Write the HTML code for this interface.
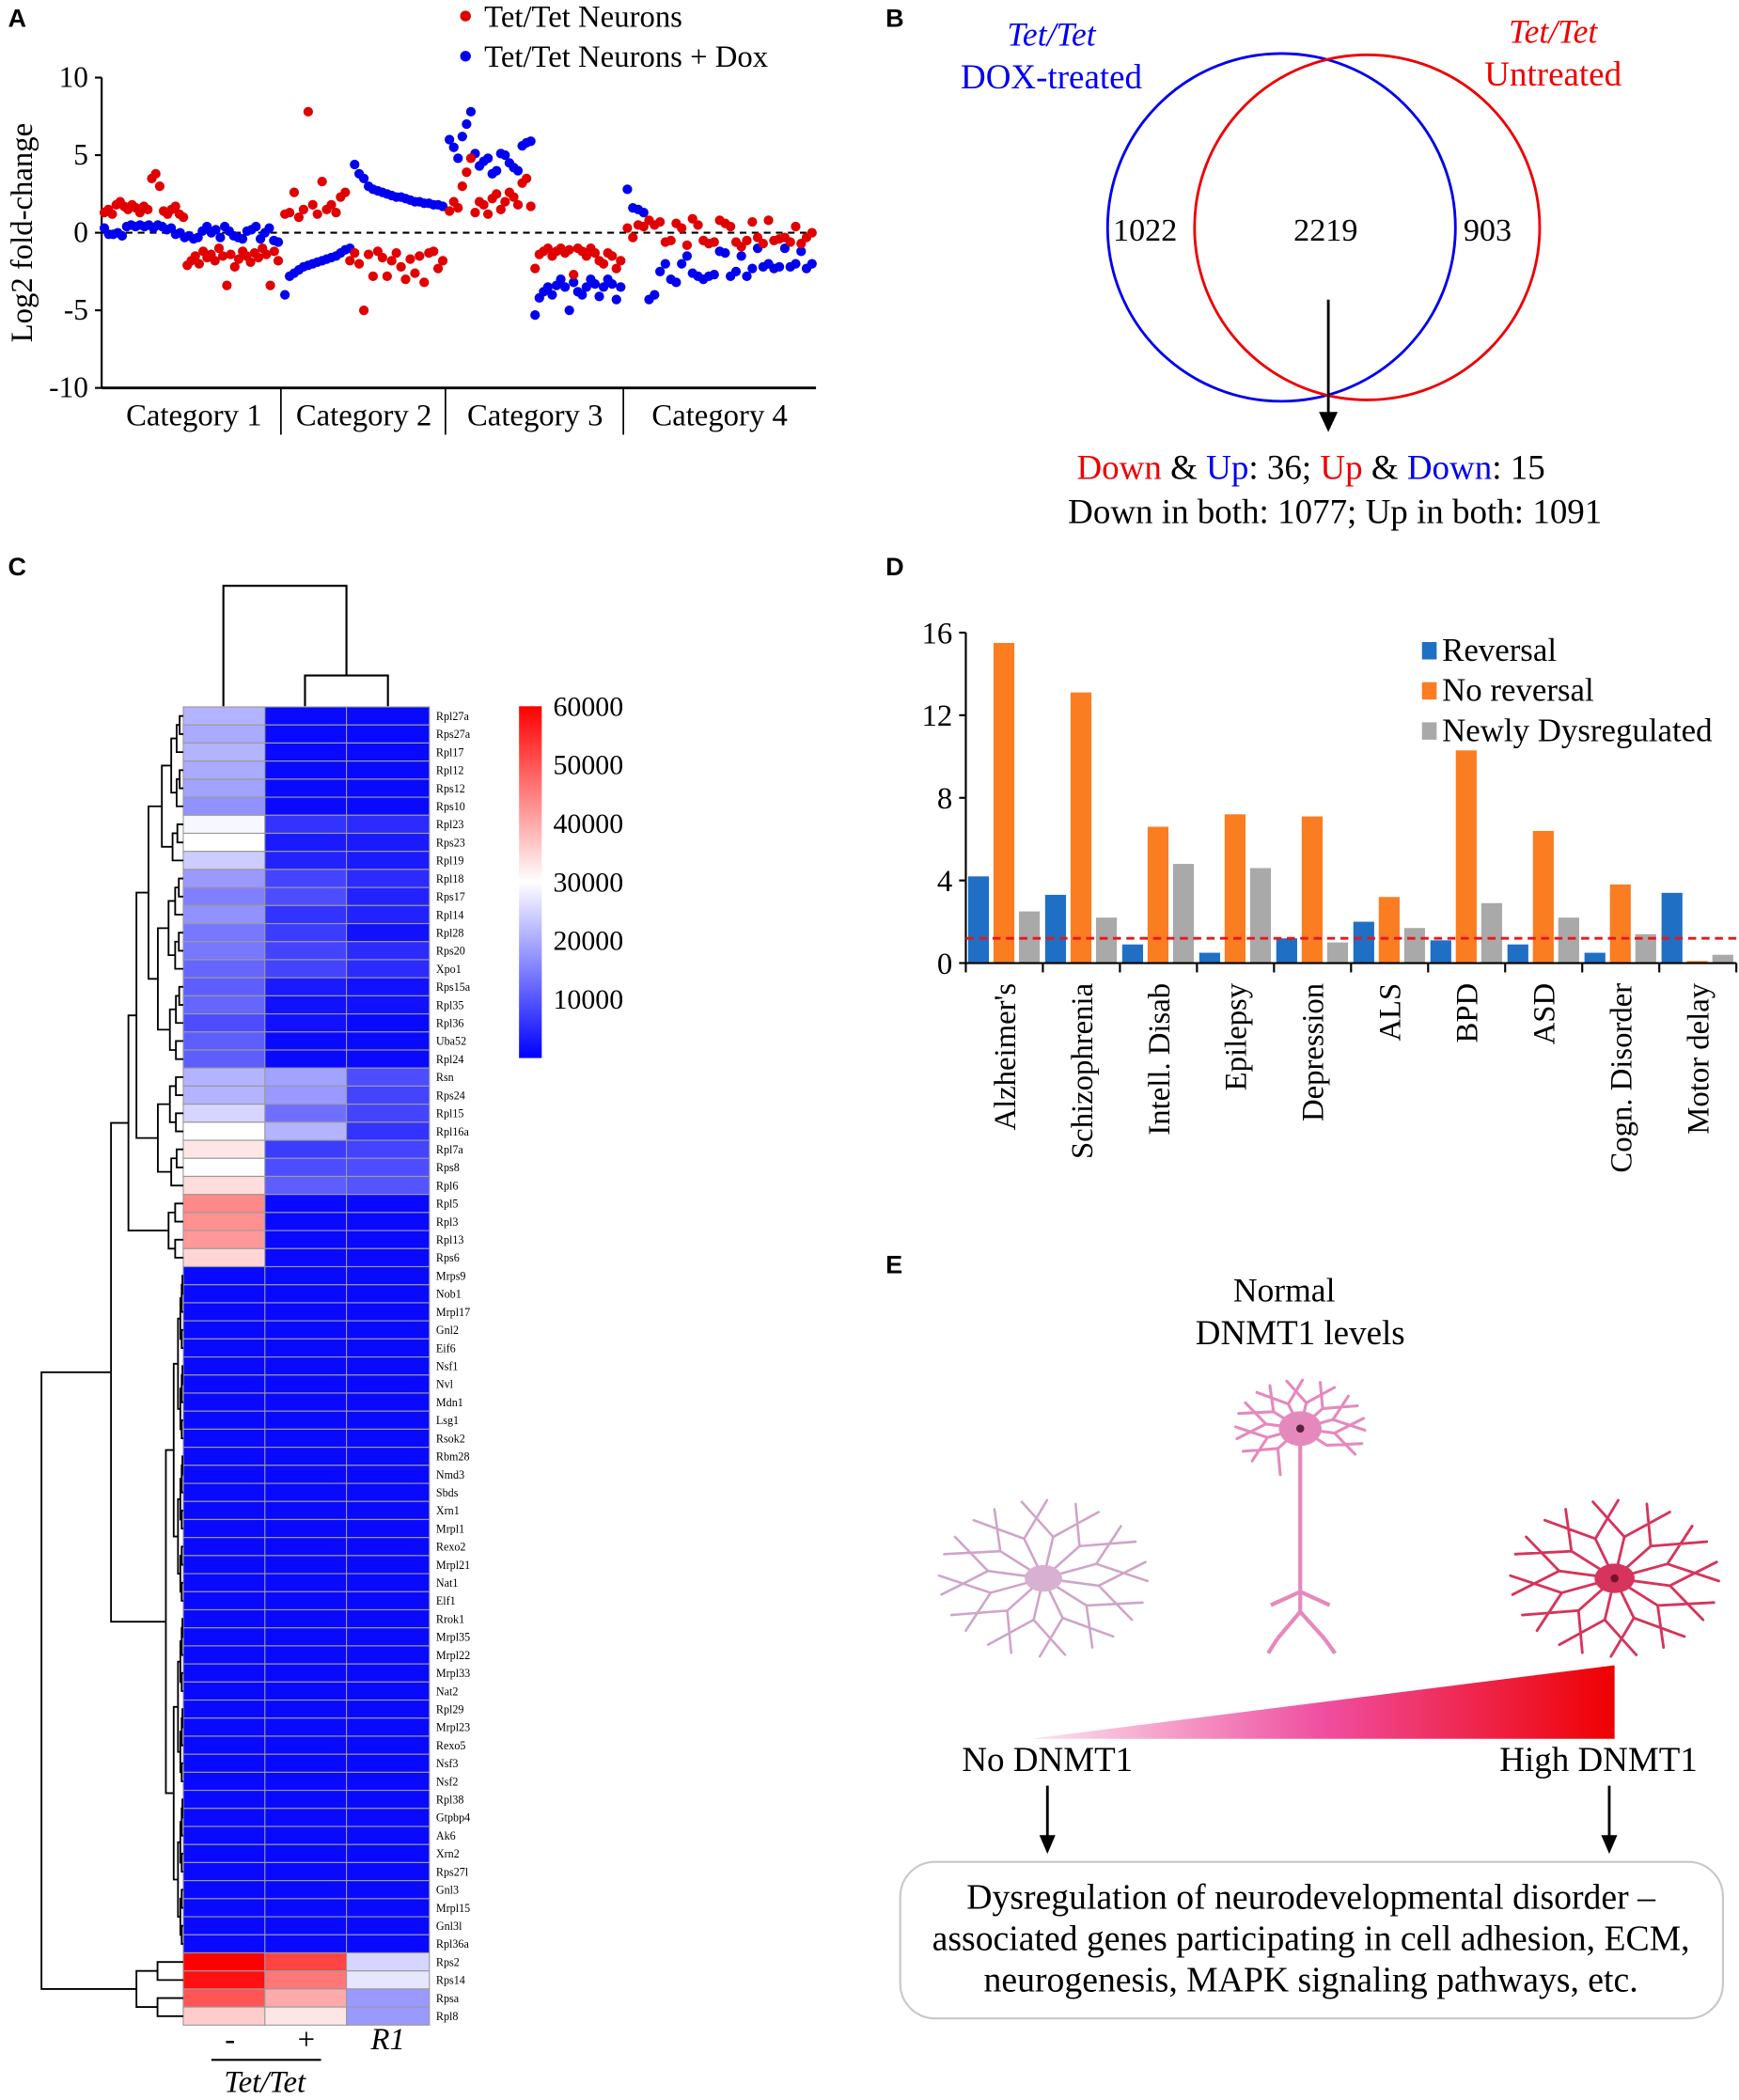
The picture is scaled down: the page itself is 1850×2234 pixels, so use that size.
<!DOCTYPE html>
<html><head><meta charset="utf-8"><style>
html,body{margin:0;padding:0;background:#fff;}
svg{display:block;font-family:"Liberation Serif",serif;}
text{font-family:"Liberation Serif",serif;}
text.pl{font-family:"Liberation Sans",sans-serif;font-weight:bold;font-size:19px;}
</style></head><body>
<svg id="fig" width="1850" height="2234" viewBox="0 0 1300 1570" preserveAspectRatio="none" xmlns="http://www.w3.org/2000/svg">
<defs>
<linearGradient id="cbar" x1="0" y1="1" x2="0" y2="0"><stop offset="0" stop-color="#0000ff"/><stop offset="0.5" stop-color="#ffffff"/><stop offset="1" stop-color="#ff0000"/></linearGradient>
<linearGradient id="tri" x1="0" y1="0" x2="1" y2="0"><stop offset="0" stop-color="#fbe6ee"/><stop offset="0.5" stop-color="#ef4fa0"/><stop offset="1" stop-color="#ee0000"/></linearGradient>
</defs>
<g id="pa">
<text class="pl" x="6" y="20">A</text>
<circle cx="348" cy="12" r="4" fill="#e00000"/>
<text x="362" y="20" font-size="23">Tet/Tet Neurons</text>
<circle cx="348" cy="42" r="4" fill="#0000ee"/>
<text x="362" y="50" font-size="23">Tet/Tet Neurons + Dox</text>
<text transform="translate(24,174) rotate(-90)" text-anchor="middle" font-size="23">Log2 fold-change</text>
</g>
<g id="pb">
<text class="pl" x="662" y="20">B</text>
<circle cx="958" cy="170" r="130" fill="none" stroke="#0000ee" stroke-width="2"/>
<circle cx="1022" cy="170" r="129" fill="none" stroke="#ee0000" stroke-width="2"/>
<text x="786" y="34" text-anchor="middle" font-size="25" font-style="italic" fill="#0000ee">Tet/Tet</text>
<text x="786" y="66" text-anchor="middle" font-size="26" fill="#0000ee">DOX-treated</text>
<text x="1161" y="32" text-anchor="middle" font-size="25" font-style="italic" fill="#ee0000">Tet/Tet</text>
<text x="1161" y="64" text-anchor="middle" font-size="26" fill="#ee0000">Untreated</text>
<text x="856" y="180" text-anchor="middle" font-size="24">1022</text>
<text x="991" y="180" text-anchor="middle" font-size="24">2219</text>
<text x="1112" y="180" text-anchor="middle" font-size="24">903</text>
<line x1="993" y1="224" x2="993" y2="312" stroke="#000" stroke-width="2"/>
<polygon points="986,308 1000,308 993,323" fill="#000"/>
<text x="980" y="358" text-anchor="middle" font-size="26"><tspan fill="#ee0000">Down</tspan> &amp; <tspan fill="#0000ee">Up</tspan>: 36; <tspan fill="#ee0000">Up</tspan> &amp; <tspan fill="#0000ee">Down</tspan>: 15</text>
<text x="998" y="391" text-anchor="middle" font-size="26">Down in both: 1077;  Up in both: 1091</text>
</g>
<g id="pc">
<text class="pl" x="6" y="430">C</text>
</g>
<g id="pd">
<text class="pl" x="662" y="430">D</text>
</g>
<g id="pe">
<text class="pl" x="662" y="952">E</text>
<text x="960" y="973" text-anchor="middle" font-size="25">Normal</text>
<text x="972" y="1005" text-anchor="middle" font-size="26">DNMT1 levels</text>
<!-- no-DNMT1 cell -->
<g transform="translate(780,1180)">
<path fill="none" stroke="#cfa4c8" stroke-width="1.8" stroke-linecap="round" d="M0,0 L41.4,5.5 L76.3,-12.2 M41.4,5.5 L66.1,31 M0,0 L32.2,20.3 L74.2,18.1 M32.2,20.3 L36.6,51.7 M0,0 L14.4,29.6 L52.2,43.5 M14.4,29.6 L-2.7,58.4 M0,0 L-7.3,31 L16.2,57.2 M-7.3,31 L-41.3,49.6 M0,0 L-27,24.1 L-24.1,55.6 M-27,24.1 L-68.9,27.4 M0,0 L-39.5,10.8 L-58,39.1 M-39.5,10.8 L-77.9,-2 M0,0 L-41.4,-5.5 L-76.3,12.2 M-41.4,-5.5 L-66.1,-31 M0,0 L-32.2,-20.3 L-74.2,-18.1 M-32.2,-20.3 L-36.6,-51.7 M0,0 L-14.4,-29.6 L-52.2,-43.5 M-14.4,-29.6 L2.7,-58.4 M0,0 L7.3,-31 L-16.2,-57.2 M7.3,-31 L41.3,-49.6 M0,0 L27,-24.1 L24.1,-55.6 M27,-24.1 L68.9,-27.4 M0,0 L39.5,-10.8 L58,-39.1 M39.5,-10.8 L77.9,2"/>
<ellipse cx="0" cy="0" rx="14" ry="10" fill="#d8b0d2"/>
</g>
<!-- high-DNMT1 cell -->
<g transform="translate(1207,1180)">
<path fill="none" stroke="#d6345c" stroke-width="2" stroke-linecap="round" d="M0,0 L41.4,5.5 L76.3,-12.2 M41.4,5.5 L66.1,31 M0,0 L32.2,20.3 L74.2,18.1 M32.2,20.3 L36.6,51.7 M0,0 L14.4,29.6 L52.2,43.5 M14.4,29.6 L-2.7,58.4 M0,0 L-7.3,31 L16.2,57.2 M-7.3,31 L-41.3,49.6 M0,0 L-27,24.1 L-24.1,55.6 M-27,24.1 L-68.9,27.4 M0,0 L-39.5,10.8 L-58,39.1 M-39.5,10.8 L-77.9,-2 M0,0 L-41.4,-5.5 L-76.3,12.2 M-41.4,-5.5 L-66.1,-31 M0,0 L-32.2,-20.3 L-74.2,-18.1 M-32.2,-20.3 L-36.6,-51.7 M0,0 L-14.4,-29.6 L-52.2,-43.5 M-14.4,-29.6 L2.7,-58.4 M0,0 L7.3,-31 L-16.2,-57.2 M7.3,-31 L41.3,-49.6 M0,0 L27,-24.1 L24.1,-55.6 M27,-24.1 L68.9,-27.4 M0,0 L39.5,-10.8 L58,-39.1 M39.5,-10.8 L77.9,2"/>
<ellipse cx="0" cy="0" rx="15" ry="11" fill="#d6345c"/>
<circle cx="0" cy="0" r="3" fill="#7a1030"/>
</g>
<!-- normal neuron -->
<g>
<path transform="translate(972,1068) scale(0.62)" fill="none" stroke="#e589bd" stroke-width="3.5" stroke-linecap="round" d="M0,0 L41.4,5.5 L76.3,-12.2 M41.4,5.5 L66.1,31 M0,0 L32.2,20.3 L74.2,18.1 M0,0 L-27,24.1 L-24.1,55.6 M-27,24.1 L-68.9,27.4 M0,0 L-39.5,10.8 L-58,39.1 M-39.5,10.8 L-77.9,-2 M0,0 L-41.4,-5.5 L-76.3,12.2 M-41.4,-5.5 L-66.1,-31 M0,0 L-32.2,-20.3 L-74.2,-18.1 M-32.2,-20.3 L-36.6,-51.7 M0,0 L-14.4,-29.6 L-52.2,-43.5 M-14.4,-29.6 L2.7,-58.4 M0,0 L7.3,-31 L-16.2,-57.2 M7.3,-31 L41.3,-49.6 M0,0 L27,-24.1 L24.1,-55.6 M27,-24.1 L68.9,-27.4 M0,0 L39.5,-10.8 L58,-39.1 M39.5,-10.8 L77.9,2"/>
<path d="M972,1080 L972,1205 M972,1205 L955,1225 M972,1205 L990,1225 M972,1190 L950,1200 M972,1190 L994,1200 M955,1225 L948,1236 M990,1225 L998,1236" stroke="#e589bd" stroke-width="3" fill="none"/>
<ellipse cx="972" cy="1068" rx="16" ry="13" fill="#e589bd"/>
<circle cx="972" cy="1068" r="3" fill="#5a2040"/>
</g>
<polygon points="770,1300 1207,1245 1207,1300" fill="url(#tri)"/>
<text x="783" y="1324" text-anchor="middle" font-size="26">No DNMT1</text>
<text x="1195" y="1324" text-anchor="middle" font-size="26">High DNMT1</text>
<line x1="783" y1="1335" x2="783" y2="1375" stroke="#000" stroke-width="2"/>
<polygon points="777,1372 789,1372 783,1386" fill="#000"/>
<line x1="1203" y1="1335" x2="1203" y2="1375" stroke="#000" stroke-width="2"/>
<polygon points="1197,1372 1209,1372 1203,1386" fill="#000"/>
<rect x="673" y="1392" width="615" height="117" rx="26" fill="none" stroke="#c8c8c8" stroke-width="1.5"/>
<text x="980" y="1427" text-anchor="middle" font-size="26.5">Dysregulation of neurodevelopmental disorder –</text>
<text x="980" y="1458" text-anchor="middle" font-size="26.5">associated genes participating in cell adhesion, ECM,</text>
<text x="980" y="1489" text-anchor="middle" font-size="26.5">neurogenesis, MAPK signaling pathways, etc.</text>
</g>
</svg>
<script>
// ---------- Panel A data ----------
const catLabels = ["Category 1","Category 2","Category 3","Category 4"];
const yTicksA = [10,5,0,-5,-10];
const red1 = [1.3,1.5,1.2,1.8,2.0,1.7,1.5,1.8,1.6,1.3,1.7,1.5,3.5,3.8,3.0,1.4,1.2,1.5,1.7,1.2,1.0,-2.1,-1.8,-1.5,-2.0,-1.2,-1.6,-1.4,-1.8,-1.0,-1.5,-3.4,-1.4,-2.2,-1.7,-1.2,-1.5,-1.9,-1.3,-1.6,-1.0,-1.4,-3.4,-1.2,-1.8];
const blue1 = [0.3,-0.1,-0.1,0.0,-0.2,0.4,0.5,0.4,0.5,0.4,0.5,0.3,0.5,0.4,0.2,0.3,-0.1,0.0,-0.3,-0.2,-0.4,-0.3,0.1,0.4,0.0,0.2,-0.3,0.4,0.1,-0.2,-0.3,-0.4,0.1,0.2,0.4,-0.4,0.0,0.3,-0.5,-0.6];
const red2 = [1.2,1.3,2.6,1.0,1.5,7.8,1.8,1.2,3.3,1.5,1.8,1.3,2.3,2.6,-1.8,-1.3,-2.0,-5.0,-1.4,-2.8,-1.2,-1.6,-2.8,-1.8,-1.3,-2.2,-3.0,-1.7,-2.6,-1.5,-3.2,-1.3,-1.2,-2.3,-1.8];
const blue2 = [-4.0,-2.8,-2.6,-2.4,-2.2,-2.1,-2.0,-1.9,-1.8,-1.7,-1.6,-1.5,-1.3,-1.1,-1.0,4.4,3.8,3.5,3.0,2.8,2.7,2.6,2.5,2.4,2.3,2.3,2.2,2.1,2.0,2.0,1.9,1.9,1.8,1.8,1.7];
const red3 = [1.4,2.0,1.6,3.0,3.9,4.8,1.3,2.0,1.8,1.2,2.2,2.5,1.5,2.0,2.6,2.3,1.8,3.2,3.5,1.7,-2.3,-1.4,-1.2,-1.0,-1.5,-1.2,-1.0,-1.3,-1.1,-2.7,-1.0,-1.2,-1.5,-1.0,-1.3,-1.8,-2.0,-1.3,-1.5,-2.3,-1.8];
const blue3 = [6.0,5.5,4.8,6.2,7.0,7.8,5.1,4.3,4.6,4.8,3.8,4.0,5.1,5.0,4.5,4.2,4.0,5.6,5.8,5.9,-5.3,-4.2,-3.8,-3.5,-4.0,-3.4,-3.0,-3.5,-5.0,-3.2,-3.8,-4.0,-3.5,-3.0,-3.3,-4.1,-3.5,-3.0,-3.3,-4.3,-3.5];
const red4 = [0.3,-0.3,0.5,0.4,0.8,0.5,0.7,-0.6,-0.5,0.6,0.3,-0.8,0.9,0.5,-0.5,-0.7,-0.6,0.8,0.6,0.4,-0.6,-0.9,-0.5,0.7,-0.3,-0.7,0.8,-0.5,-0.4,-0.3,-0.6,0.4,-0.7,-0.3,0.0];
const blue4 = [2.8,1.6,1.5,1.3,-4.3,-4.0,-2.5,-2.0,-3.0,-3.2,-2.0,-1.5,-2.6,-2.8,-3.0,-2.8,-2.7,-1.2,-1.3,-2.8,-2.5,-1.5,-2.8,-2.3,-1.0,-2.2,-2.0,-2.3,-2.2,-1.0,-2.2,-2.0,-1.2,-2.3,-2.0];

// ---------- Panel C data ----------
const geneNames = ["Rpl27a","Rps27a","Rpl17","Rpl12","Rps12","Rps10","Rpl23","Rps23","Rpl19","Rpl18","Rps17","Rpl14","Rpl28","Rps20","Xpo1","Rps15a","Rpl35","Rpl36","Uba52","Rpl24","Rsn","Rps24","Rpl15","Rpl16a","Rpl7a","Rps8","Rpl6","Rpl5","Rpl3","Rpl13","Rps6","Mrps9","Nob1","Mrpl17","Gnl2","Eif6","Nsf1","Nvl","Mdn1","Lsg1","Rsok2","Rbm28","Nmd3","Sbds","Xrn1","Mrpl1","Rexo2","Mrpl21","Nat1","Elf1","Rrok1","Mrpl35","Mrpl22","Mrpl33","Nat2","Rpl29","Mrpl23","Rexo5","Nsf3","Nsf2","Rpl38","Gtpbp4","Ak6","Xrn2","Rps27l","Gnl3","Mrpl15","Gnl3l","Rpl36a","Rps2","Rps14","Rpsa","Rpl8"];
const heatColLabels = ["-","+","R1"];
const colMinus = [21000,20000,21000,20000,19000,17000,29000,30000,24000,18000,15000,17000,14000,14000,12000,11000,12000,9000,11000,11000,21000,21000,25000,30000,33000,30000,34000,44000,43000,42000,35000,1000,1000,1000,1000,1000,1000,1000,1000,1000,1000,1000,1000,1000,1000,1000,1000,1000,1000,1000,1000,1000,1000,1000,1000,1000,1000,1000,1000,1000,1000,1000,1000,1000,1000,1000,1000,1000,1000,60000,58000,50000,36000];
const colPlus = [1000,1000,1000,1000,1000,1000,6000,3000,4000,8000,9000,6000,7000,8000,8000,3000,2000,2000,1000,1000,19000,18000,13000,21000,7000,9000,11000,1000,1000,1000,1000,1000,1000,1000,1000,1000,1000,1000,1000,1000,1000,1000,1000,1000,1000,1000,1000,1000,1000,1000,1000,1000,1000,1000,1000,1000,1000,1000,1000,1000,1000,1000,1000,1000,1000,1000,1000,1000,1000,52000,46000,40000,33000];
const colR1 = [1000,1000,1000,1000,1000,1000,5000,3000,3000,5000,4000,4000,2000,5000,5000,2000,2000,1000,1000,1000,9000,8000,8000,6000,8000,9000,10000,1000,1000,1000,1000,1000,1000,1000,1000,1000,1000,1000,1000,1000,1000,1000,1000,1000,1000,1000,1000,1000,1000,1000,1000,1000,1000,1000,1000,1000,1000,1000,1000,1000,1000,1000,1000,1000,1000,1000,1000,1000,1000,25000,27000,18000,18000];
const cbarTicks = [60000,50000,40000,30000,20000,10000];

// ---------- Panel D data ----------
const disorders = ["Alzheimer's","Schizophrenia","Intell. Disab","Epilepsy","Depression","ALS","BPD","ASD","Cogn. Disorder","Motor delay"];
const reversal = [4.2,3.3,0.9,0.5,1.2,2.0,1.1,0.9,0.5,3.4];
const noReversal = [15.5,13.1,6.6,7.2,7.1,3.2,10.3,6.4,3.8,0.1];
const newlyDys = [2.5,2.2,4.8,4.6,1.0,1.7,2.9,2.2,1.4,0.4];
const yTicksD = [0,4,8,12,16];
const threshold = [1.2];

const NS="http://www.w3.org/2000/svg";
function mk(tag, attrs, parent, txt){const e=document.createElementNS(NS,tag);for(const k in attrs)e.setAttribute(k,attrs[k]);if(txt!==undefined)e.textContent=txt;parent.appendChild(e);return e;}

// ===== Panel A =====
(function(){
const g=document.getElementById('pa');
const X0=76,X1=610,Y0=174,SC=11.6;
const yA=v=>Y0-v*SC;
const bounds=[[78,208],[213,331],[336,464],[469,607]];
const axY=mk('line',{x1:X0,y1:yA(10),x2:X0,y2:yA(-10),stroke:'#000','stroke-width':1.5},g);


yTicksA.forEach(t=>{
  mk('line',{x1:X0-5,y1:yA(t),x2:X0,y2:yA(t),stroke:'#000','stroke-width':1.5},g);
  const tx=mk('text',{x:X0-10,y:yA(t)+7,'text-anchor':'end','font-size':22},g,String(t));
  
  
});
const axX=mk('line',{x1:X0,y1:yA(-10),x2:X1,y2:yA(-10),stroke:'#000','stroke-width':2},g);


const zl=mk('line',{x1:X0,y1:Y0,x2:X1,y2:Y0,stroke:'#000','stroke-width':1.5,'stroke-dasharray':'5,4'},g);


[210,333,466].forEach(x=>mk('line',{x1:x,y1:yA(-10),x2:x,y2:325,stroke:'#000','stroke-width':1.2},g));
catLabels.forEach((c,i)=>{
  const cx=(bounds[i][0]+bounds[i][1])/2+(i==0?2:0);
  const t=mk('text',{x:cx,y:318,'text-anchor':'middle','font-size':23},g,c);
  
  
});
const series=[[red1,blue1],[red2,blue2],[red3,blue3],[red4,blue4]];
series.forEach((pair,ci)=>{
  const [a,b]=bounds[ci];
  [[pair[1],'#0000ee','dox'],[pair[0],'#e00000','untreated']].forEach(([arr,col,nm])=>{
    const n=arr.length;
    arr.forEach((v,i)=>{
      const x=a+(b-a)*(n>1?i/(n-1):0.5);
      const c=mk('circle',{cx:x.toFixed(1),cy:yA(v).toFixed(1),r:3.6,fill:col},g);
      
      
    });
  });
});
})();

// ===== Panel C =====
(function(){
const g=document.getElementById('pc');
const HX=137,CW=62,RY=528.5,RH=13.5;
const colsX=[137,198,259];
function col(v){
  if(v<=30000){const t=Math.max(0,v/30000);const c=Math.round(255*t);return `rgb(${c},${c},255)`;}
  const t=Math.min(1,(v-30000)/30000);const c=Math.round(255*(1-t));return `rgb(255,${c},${c})`;
}
[colMinus,colPlus,colR1].forEach((arr,ci)=>{
  arr.forEach((v,i)=>{
    const r=mk('rect',{x:colsX[ci],y:(RY+i*RH).toFixed(2),width:CW,height:RH,fill:col(v),stroke:'#9a9a9a','stroke-width':0.8},g);
    
    
  });
});
geneNames.forEach((n,i)=>{
  const t=mk('text',{x:326,y:(RY+i*RH+RH*0.5+3).toFixed(1),'font-size':8.5},g,n);
  
  
});
const cb=mk('rect',{x:388,y:528,width:17,height:263,fill:'url(#cbar)'},g);


const cy=v=>791-v*(263/60000);
cbarTicks.forEach(t=>{
  const tx=mk('text',{x:466,y:cy(t)+7,'text-anchor':'end','font-size':21},g,String(t));
  
  
});
const dp='M167,528 V438 H259 V505 M228,528 V505 H290 V528';
const td=mk('path',{d:dp,fill:'none',stroke:'#000','stroke-width':1.5},g);


const rowY=i=>RY+RH*(i+0.5);
let path='';
function auto(lo,hi,x){
  if(lo===hi){return rowY(lo);}
  const m=Math.floor((lo+hi)/2);
  const cx=x+(HX-x)*0.45;
  const y1=auto(lo,m,cx), y2=auto(m+1,hi,cx);
  const e1=(lo===m)?HX:cx, e2=(m+1===hi)?HX:cx;
  path+=`M${e1},${y1.toFixed(1)} H${x} V${y2.toFixed(1)} H${e2} `;
  return (y1+y2)/2;
}
function node(x,a,b){
  const [y1,x1]=a(), [y2,x2]=b();
  path+=`M${x1},${y1.toFixed(1)} H${x} V${y2.toFixed(1)} H${x2} `;
  return [(y1+y2)/2,x];
}
const A=(lo,hi,x)=>()=>[auto(lo,hi,x),x];
const N=(x,a,b)=>()=>node(x,a,b);
N(31,
  N(83,
    N(96,
      N(102,
        N(111, N(121,A(0,5,128),A(6,8,129)), N(118,A(9,14,126),A(15,19,127))),
        N(118,A(20,23,127),A(24,26,128))),
      A(27,30,126)),
    A(31,68,124)),
  A(69,72,102))();
const ld=mk('path',{d:path,fill:'none',stroke:'#000','stroke-width':1.3},g);


const lx=[172,229,290];
heatColLabels.forEach((l,i)=>{
  const t=mk('text',{x:lx[i],y:1532,'text-anchor':'middle','font-size':23,'font-style':i==2?'italic':'normal'},g,l);
  
  
});
mk('line',{x1:158,y1:1540,x2:240,y2:1540,stroke:'#000','stroke-width':1.5},g);
const tt=mk('text',{x:198,y:1564,'text-anchor':'middle','font-size':23,'font-style':'italic'},g,'Tet/Tet');


})();

// ===== Panel D =====
(function(){
const g=document.getElementById('pd');
const X0=722,X1=1298,Y0=720,SC=15.44;
const yD=v=>Y0-v*SC;
const gw=(X1-X0)/disorders.length;
const ay=mk('line',{x1:X0,y1:yD(16),x2:X0,y2:Y0,stroke:'#000','stroke-width':1.5},g);


yTicksD.forEach(t=>{
  mk('line',{x1:X0-5,y1:yD(t),x2:X0,y2:yD(t),stroke:'#000','stroke-width':1.5},g);
  const tx=mk('text',{x:X0-10,y:yD(t)+8,'text-anchor':'end','font-size':23},g,String(t));
  
  
});
const specs=[[reversal,'#1f6fc5',0.03,'bar-reversal'],[noReversal,'#fb7d21',0.36,'bar-no-reversal'],[newlyDys,'#a9a9a9',0.69,'bar-newly-dysregulated']];
specs.forEach(([arr,c,off,nm])=>{
  arr.forEach((v,i)=>{
    const x=X0+gw*i+gw*off;
    const r=mk('rect',{x:x.toFixed(1),y:yD(v).toFixed(1),width:(gw*0.27).toFixed(1),height:(v*SC).toFixed(1),fill:c},g);
    
    
  });
});
const ax=mk('line',{x1:X0,y1:Y0,x2:X1,y2:Y0,stroke:'#000','stroke-width':1.5},g);


for(let i=0;i<=disorders.length;i++){mk('line',{x1:X0+gw*i,y1:Y0,x2:X0+gw*i,y2:Y0+7,stroke:'#000','stroke-width':1.5},g);}
threshold.forEach(t=>{
  const l=mk('line',{x1:X0,y1:yD(t),x2:X1,y2:yD(t),stroke:'#e8161b','stroke-width':2,'stroke-dasharray':'6,4'},g);
  
  
});
disorders.forEach((d,i)=>{
  const cx=X0+gw*i+gw*0.5+8;
  const t=mk('text',{transform:`translate(${cx.toFixed(1)},735) rotate(-90)`,'text-anchor':'end','font-size':23},g,d);
  
  
});
const leg=[['#1f6fc5','Reversal'],['#fb7d21','No reversal'],['#a9a9a9','Newly Dysregulated']];
leg.forEach(([c,l],i)=>{
  mk('rect',{x:1063,y:480+i*30,width:11,height:13,fill:c},g);
  const t=mk('text',{x:1078,y:494+i*30,'font-size':24.5},g,l);
  
  
});
})();
</script>
</body></html>
